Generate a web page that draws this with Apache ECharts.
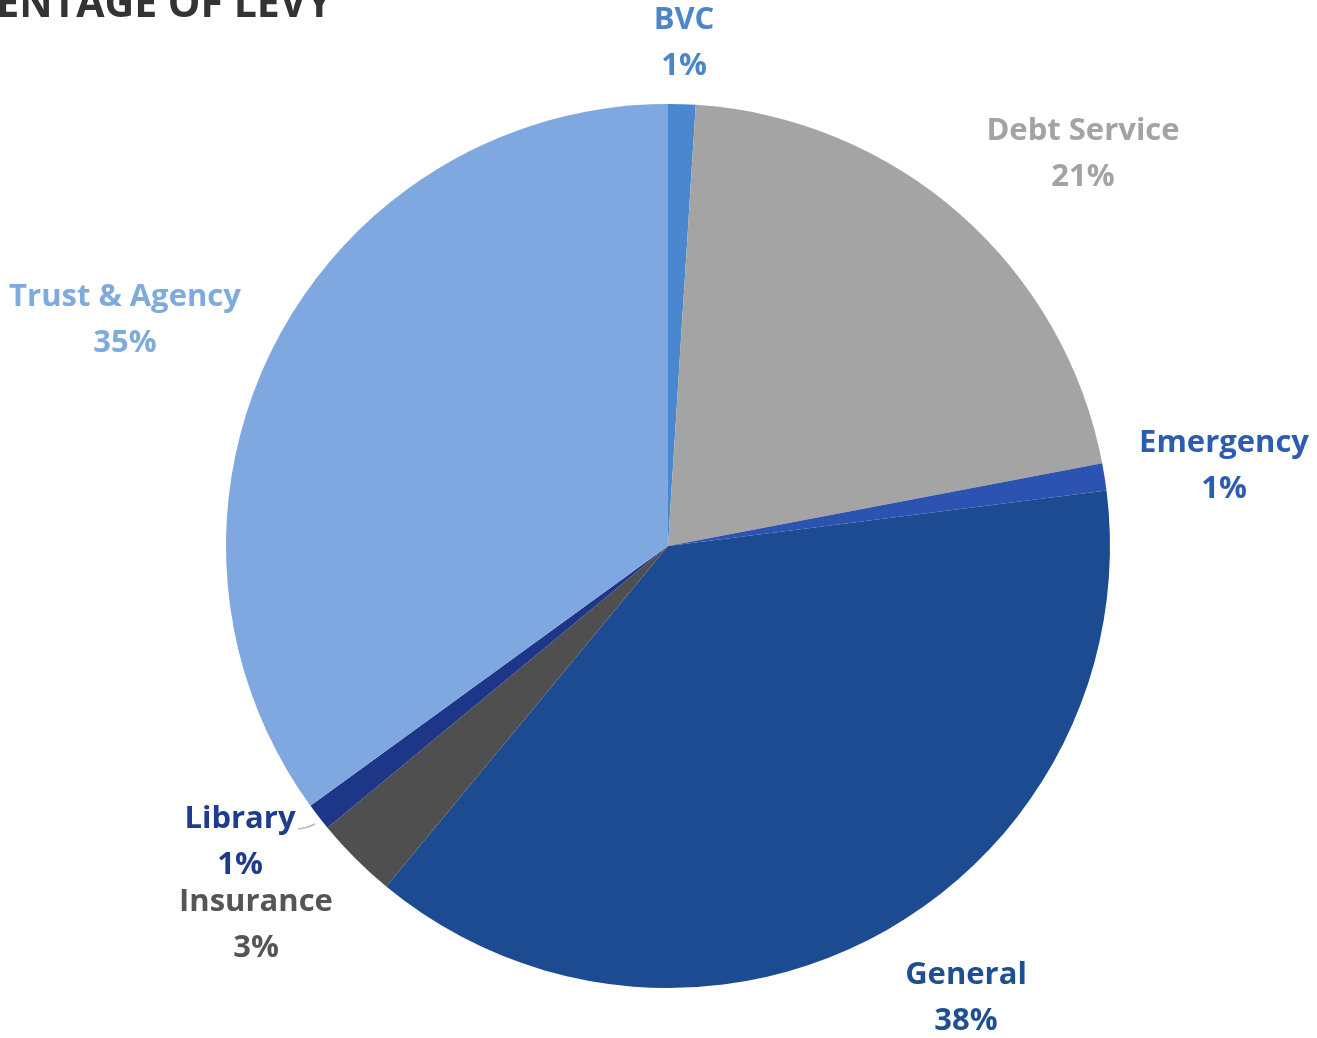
<!DOCTYPE html>
<html>
<head>
<meta charset="utf-8">
<title>Percentage of Levy</title>
<script src="https://cdn.jsdelivr.net/npm/echarts@6/dist/echarts.min.js"></script>
<style>
  html, body { margin: 0; padding: 0; background: #ffffff; }
  #chart { width: 1317px; height: 1038px; }
</style>
</head>
<body>
<div id="chart"></div>
<script>
// Share of the total levy by fund (percent)
const funds = ['BVC', 'Debt Service', 'Emergency', 'General', 'Insurance', 'Library', 'Trust & Agency'];
const levyShare = [1, 21, 1, 38, 3, 1, 35];

// Slice fills and label colours, one per fund
const sliceColors = ['#4a87cf', '#a4a4a4', '#2c53b2', '#1d4b91', '#4f4f4f', '#1e3688', '#7ea8df'];
const labelColors = ['#4a86c8', '#a3a3a3', '#2d5db0', '#1f4f90', '#555555', '#1f3c8c', '#7eaade'];

// Where each label's text block is centred
const labelAnchors = [
  [684, 43], [1083, 154], [1224, 466], [966, 998], [256, 925], [240, 842], [125, 320]
];
// Short leader from the Library slice to its label
const libraryLeader = [[315, 824], [306, 828], [298, 829]];

const chart = echarts.init(document.getElementById('chart'), null, { renderer: 'canvas' });

chart.setOption({
  backgroundColor: '#ffffff',
  animation: false,
  graphic: [{
    type: 'text',
    style: {
      text: 'PERCENTAGE OF LEVY',
      x: 332,
      y: 5,
      align: 'right',
      verticalAlign: 'middle',
      font: 'bold 41px "Open Sans"',
      fill: '#333333'
    }
  }],
  series: [{
    type: 'pie',
    center: [668, 546],
    radius: [0, 442],
    startAngle: 90,
    clockwise: true,
    percentPrecision: 0,
    avoidLabelOverlap: false,
    itemStyle: { borderWidth: 0 },
    label: {
      show: true,
      position: 'outside',
      formatter: '{b}\n{d}%',
      fontFamily: 'Open Sans',
      fontWeight: 'bold',
      fontSize: 31,
      lineHeight: 46,
      align: 'center'
    },
    labelLine: { show: false },
    labelLayout: function (p) {
      const a = labelAnchors[p.dataIndex];
      const out = { x: a[0], y: a[1], align: 'center', verticalAlign: 'middle' };
      if (funds[p.dataIndex] === 'Library') {
        out.labelLinePoints = libraryLeader;
      }
      return out;
    },
    data: funds.map((name, i) => ({
      name: name,
      value: levyShare[i],
      itemStyle: { color: sliceColors[i] },
      label: { color: labelColors[i] },
      labelLine: name === 'Library'
        ? { show: true, smooth: 0.4, lineStyle: { color: '#b4bac4', width: 1.5 } }
        : { show: false }
    }))
  }]
});
</script>
</body>
</html>
